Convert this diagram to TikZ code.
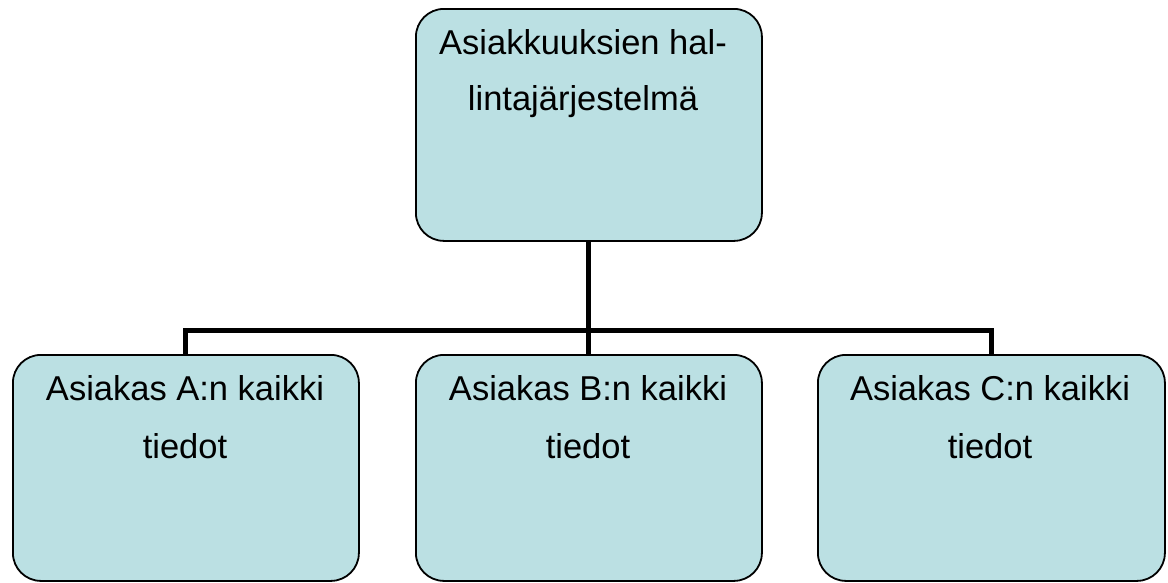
\documentclass[tikz,border=0pt]{standalone}
\usepackage{fontspec}
\setmainfont{Liberation Sans}
\definecolor{boxfill}{RGB}{187,224,227}
\begin{document}
\begin{tikzpicture}[x=1pt,y=-1pt,
  card/.style={draw=black,line width=1.8pt,fill=boxfill,rounded corners=28pt,
    minimum width=346pt,minimum height=230pt,inner sep=0pt,anchor=north west},
  lbl/.style={anchor=base,inner sep=0pt,font=\fontsize{34.5}{40}\selectfont},
  conn/.style={draw=black,line width=5pt}]
\useasboundingbox (0,0) rectangle (1168,582);
\node[card,minimum height=232pt] (top) at (415,8) {};
\node[card,minimum height=226pt] (A) at (12,354) {};
\node[card,minimum height=226pt] (B) at (415,354) {};
\node[card,minimum height=226pt,minimum width=347pt] (C) at (817,354) {};
\coordinate (bus) at (588,330.5);
\draw[conn] (top.south) -- (B.north);
\draw[conn] (A.north) -- (A.north |- bus) -- (C.north |- bus) -- (C.north);
\node[lbl] (t1) at (583,54) {Asiakkuuksien hal-};
\node[lbl] (t2) at (583,110) {lintajärjestelmä};
\node[lbl] (a1) at (185,400) {Asiakas A:n kaikki};
\node[lbl] (a2) at (185,458) {tiedot};
\node[lbl] (b1) at (588,400) {Asiakas B:n kaikki};
\node[lbl] (b2) at (588,458) {tiedot};
\node[lbl] (c1) at (990,400) {Asiakas C:n kaikki};
\node[lbl] (c2) at (990,458) {tiedot};
\end{tikzpicture}
\end{document}
